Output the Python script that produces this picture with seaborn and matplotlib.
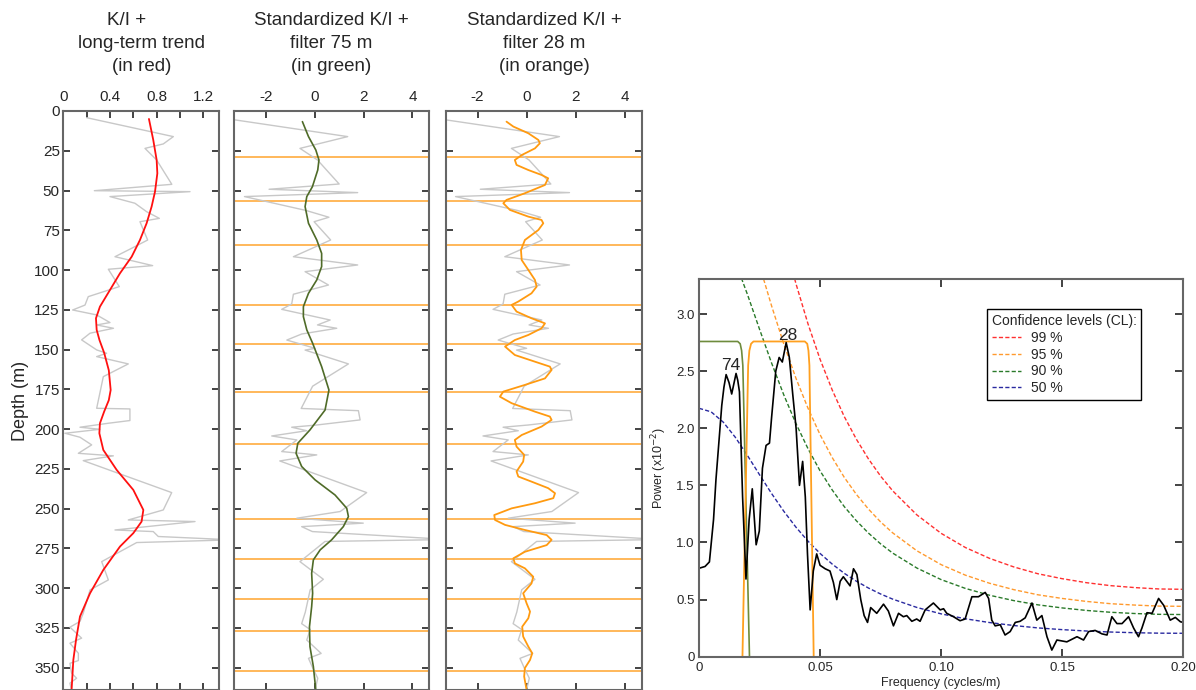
import matplotlib
matplotlib.use("Agg")
import matplotlib.pyplot as plt
import seaborn as sns

sns.set_style("ticks")
plt.rcParams['font.family'] = ['Liberation Sans', 'DejaVu Sans']
plt.rcParams['axes.unicode_minus'] = False

# ---------------- data ----------------
raw_depth = [4.2, 16.1, 20.7, 23.5, 30.8, 46.1, 50.1, 50.7, 53.8, 58.0, 63.3, 67.5, 69.6, 81.1, 86.3,
             91.6, 97.2, 99.5, 110.4, 116.7, 122.0, 125.1, 128.2, 133.0, 134.5, 136.6, 139.7, 143.9,
             150.2, 152.3, 154.4, 159.0, 167.0, 186.9, 187.3, 194.6, 196.3, 198.8, 200.1, 202.6, 205.1,
             209.9, 215.2, 216.8, 219.8, 239.9, 250.8, 257.1, 258.1, 263.4, 264.4, 267.5, 269.6, 271.3,
             283.3, 294.8, 301.1, 315.7, 320.9, 324.5, 331.4, 334.6, 340.9, 345.5, 347.2, 353.4, 356.6,
             359.7, 364.0]
raw_ki = [0.20, 0.943, 0.857, 0.70, 0.80, 0.93, 0.266, 1.086, 0.40, 0.614, 0.714, 0.823, 0.657, 0.723,
          0.586, 0.443, 0.766, 0.386, 0.48, 0.214, 0.186, 0.08, 0.286, 0.40, 0.286, 0.43, 0.229, 0.157,
          0.286, 0.371, 0.286, 0.557, 0.343, 0.286, 0.571, 0.571, 0.386, 0.143, 0.314, 0.014, 0.143,
          0.243, 0.129, 0.429, 0.171, 0.929, 0.857, 0.557, 1.129, 0.443, 0.771, 0.814, 1.45, 0.629,
          0.329, 0.386, 0.229, 0.171, 0.143, 0.057, 0.157, 0.057, 0.129, 0.129, 0.057, 0.071, 0.114,
          0.057, 0.07]

trend_depth = [5.0, 18.2, 30.8, 39.2, 50.7, 60.1, 70.6, 81.1, 91.6, 102.0, 112.5, 123.0, 130.3, 137.6,
               144.0, 152.0, 163.0, 175.4, 181.8, 189.0, 196.3, 202.6, 213.1, 225.6, 238.2, 250.8, 258.1,
               265.4, 273.8, 288.5, 303.2, 317.8, 332.5, 345.1, 364.0]
trend_ki = [0.734, 0.771, 0.800, 0.806, 0.786, 0.757, 0.714, 0.657, 0.586, 0.486, 0.400, 0.314, 0.280,
            0.286, 0.310, 0.350, 0.390, 0.406, 0.390, 0.350, 0.314, 0.309, 0.343, 0.457, 0.600, 0.686,
            0.671, 0.600, 0.486, 0.343, 0.229, 0.143, 0.109, 0.086, 0.071]

std_depth = [4.2, 16.1, 23.5, 30.8, 45.9, 49.2, 51.3, 53.8, 62.5, 66.8, 69.6, 81.1, 91.6, 96.8, 101.0,
             109.4, 115.2, 121.3, 124.7, 131.4, 134.5, 136.6, 140.2, 144.0, 149.2, 150.3, 159.0, 173.0,
             187.0, 188.4, 194.2, 197.4, 198.8, 201.0, 204.3, 206.8, 214.1, 216.2, 220.0, 239.9, 251.8,
             256.0, 259.1, 261.3, 264.4, 269.4, 270.6, 283.3, 294.4, 301.0, 315.0, 322.3, 326.0, 332.6,
             341.0, 344.1, 350.0, 356.6, 364.0]
std_ki = [-3.9, 1.34, -0.62, 0.10, 0.99, -1.89, 1.75, -2.90, -0.38, 0.57, -0.04, 0.64, -0.89, 1.75,
          -0.41, 0.55, -0.89, -0.96, -1.37, 0.62, 0.10, 0.89, -0.55, -1.16, 0.00, -0.41, 1.37, -0.10,
          -0.57, 1.78, 1.85, 0.07, -0.96, -0.34, -1.78, -0.75, -1.37, 0.07, -1.45, 2.12, 1.03, -0.75,
          1.98, -0.55, -0.11, 5.5, 0.41, -0.62, 0.34, -0.20, -0.40, -0.55, -0.20, -0.34, 0.25, -0.27,
          -0.10, 0.11, 0.00]

green_depth = [6.7, 16.1, 24.5, 30.8, 37.1, 47.6, 53.8, 60.1, 70.6, 81.1, 89.5, 97.8, 106.2, 114.6,
               123.0, 129.3, 137.6, 146.0, 160.7, 175.4, 188.0, 200.5, 208.9, 215.2, 223.5, 231.9, 241.4,
               249.7, 255.0, 261.3, 269.6, 275.9, 282.2, 290.6, 303.2, 311.6, 324.2, 336.7, 349.3, 364.0]
green_ki = [-0.52, -0.27, 0.03, 0.16, 0.11, -0.11, -0.34, -0.41, -0.27, 0.07, 0.27, 0.27, 0.07, -0.27,
            -0.48, -0.48, -0.34, -0.10, 0.27, 0.57, 0.41, -0.21, -0.71, -0.78, -0.55, 0.00, 0.82, 1.30,
            1.37, 1.16, 0.68, 0.21, -0.07, -0.14, -0.10, -0.14, -0.23, -0.21, -0.07, 0.03]

orange_depth = [6.7, 9.8, 14.0, 18.2, 20.3, 23.5, 27.7, 30.8, 33.9, 37.1,
                40.2, 42.3, 46.5, 51.7, 55.9, 58.0, 62.2, 66.4, 68.5, 70.6,
                74.8, 81.1, 87.4, 93.7, 99.9, 106.2, 110.4, 114.6, 119.8, 121.9,
                126.1, 130.3, 133.5, 136.6, 140.8, 144.0, 148.1, 153.4, 157.6, 160.7,
                162.8, 168.1, 172.2, 176.4, 179.6, 183.7, 189.0, 192.1, 194.2, 198.4,
                203.7, 206.8, 211.0, 216.2, 220.4, 226.6, 229.8, 233.0, 237.1, 240.3,
                243.4, 246.6, 249.8, 254.0, 257.1, 260.2, 263.4, 266.6, 269.6, 272.9,
                277.1, 281.2, 284.4, 287.5, 292.8, 297.0, 303.2, 309.5, 314.7, 318.9,
                324.2, 330.4, 336.7, 340.9, 345.1, 350.2, 355.5, 364.0]
orange_ki = [-0.82, -0.54, 0.07, 0.48, 0.54, 0.34, -0.20, -0.48, -0.41, 0.07,
             0.61, 0.88, 0.75, -0.07, -0.82, -0.95, -0.68, 0.07, 0.61, 0.68,
             0.48, -0.07, -0.23, -0.20, 0.07, 0.34, 0.41, 0.20, -0.34, -0.61,
             -0.41, 0.20, 0.75, 0.61, 0.07, -0.48, -0.88, -0.48, 0.34, 0.95,
             1.02, 0.75, -0.07, -0.95, -1.09, -0.61, 0.34, 0.95, 1.02, 0.61,
             -0.20, -0.48, -0.41, -0.10, -0.14, -0.41, -0.34, 0.20, 0.88, 1.16,
             1.09, 0.34, -0.61, -1.32, -1.29, -0.88, -0.07, 0.82, 1.02, 0.82,
             -0.07, -0.54, -0.48, -0.07, 0.27, 0.20, -0.14, 0.00, 0.14, 0.07,
             -0.18, -0.14, 0.07, 0.23, 0.14, -0.07, -0.10, 0.00]

cycle_depth = [28.9, 56.6, 84.0, 121.7, 146.6, 176.4, 209.1, 256.6, 281.8, 306.7, 326.6, 351.8]

spec_freq = [0.0, 0.0025, 0.0043, 0.0060, 0.0070, 0.0080, 0.0094, 0.0103, 0.0112, 0.0124,
             0.0135, 0.0145, 0.0153, 0.0160, 0.0167, 0.0180, 0.0194, 0.0207, 0.0220, 0.0236,
             0.0249, 0.0262, 0.0277, 0.0291, 0.0300, 0.0317, 0.0331, 0.0344, 0.0360, 0.0373,
             0.0387, 0.0401, 0.0415, 0.0428, 0.0439, 0.0448, 0.0459, 0.0472, 0.0486, 0.0500,
             0.0521, 0.0541, 0.0555, 0.0569, 0.0583, 0.0596, 0.0624, 0.0638, 0.0652, 0.0668,
             0.0682, 0.0696, 0.0709, 0.0734, 0.0762, 0.0782, 0.0803, 0.0824, 0.0844, 0.0858,
             0.0879, 0.0899, 0.0913, 0.0934, 0.0968, 0.0996, 0.1010, 0.1023, 0.1051, 0.1078,
             0.1099, 0.1127, 0.1154, 0.1182, 0.1196, 0.1209, 0.1223, 0.1244, 0.1264, 0.1285,
             0.1306, 0.1326, 0.1347, 0.1375, 0.1395, 0.1416, 0.1437, 0.1457, 0.1478, 0.1519,
             0.1561, 0.1588, 0.1609, 0.1636, 0.1664, 0.1685, 0.1705, 0.1726, 0.1747, 0.1774,
             0.1795, 0.1815, 0.1829, 0.1850, 0.1871, 0.1898, 0.1919, 0.1946, 0.1967, 0.1988, 0.2000]
spec_power = [0.774, 0.79, 0.83, 1.20, 1.55, 1.82, 2.20, 2.36, 2.47, 2.40,
              2.30, 2.40, 2.48, 2.42, 2.32, 1.40, 0.68, 1.20, 1.47, 0.98,
              1.10, 1.65, 1.85, 1.87, 2.10, 2.50, 2.62, 2.58, 2.75, 2.62,
              2.30, 2.00, 1.50, 1.71, 1.40, 0.90, 0.41, 0.75, 0.90, 0.80,
              0.77, 0.75, 0.65, 0.50, 0.66, 0.70, 0.62, 0.77, 0.72, 0.50,
              0.36, 0.30, 0.43, 0.38, 0.46, 0.40, 0.27, 0.38, 0.35, 0.36,
              0.31, 0.33, 0.31, 0.41, 0.47, 0.41, 0.42, 0.38, 0.35, 0.315,
              0.33, 0.525, 0.525, 0.563, 0.51, 0.32, 0.27, 0.28, 0.19, 0.22,
              0.30, 0.31, 0.34, 0.47, 0.32, 0.36, 0.175, 0.058, 0.146, 0.13,
              0.175, 0.146, 0.22, 0.23, 0.20, 0.19, 0.35, 0.29, 0.29, 0.35,
              0.25, 0.175, 0.25, 0.385, 0.38, 0.51, 0.45, 0.32, 0.344, 0.306, 0.30]

win75_freq = [0.0, 0.0160, 0.0170, 0.0176, 0.0181, 0.0209]
win75_power = [2.76, 2.76, 2.74, 2.68, 2.55, -0.05]
win28_freq = [0.0179, 0.0203, 0.0208, 0.0215, 0.0225, 0.0437, 0.0447, 0.0452, 0.0456, 0.0474]
win28_power = [-0.05, 2.55, 2.68, 2.74, 2.76, 2.76, 2.74, 2.68, 2.55, -0.05]

conf_freq = [0, 0.005, 0.01, 0.015, 0.02, 0.025, 0.03, 0.035, 0.04, 0.045, 0.05, 0.055, 0.06, 0.065,
             0.07, 0.075, 0.08, 0.09, 0.10, 0.11, 0.12, 0.13, 0.14, 0.15, 0.16, 0.17, 0.18, 0.19, 0.20]
cl50 = [2.175, 2.144, 2.054, 1.921, 1.762, 1.593, 1.428, 1.274, 1.135, 1.012, 0.904, 0.811, 0.730, 0.661,
        0.601, 0.549, 0.504, 0.431, 0.375, 0.332, 0.299, 0.273, 0.252, 0.237, 0.225, 0.216, 0.210, 0.206, 0.205]
cl90 = [3.915, 3.859, 3.697, 3.458, 3.172, 2.867, 2.570, 2.293, 2.043, 1.822, 1.627, 1.460, 1.314, 1.190,
        1.082, 0.988, 0.907, 0.776, 0.675, 0.598, 0.538, 0.491, 0.454, 0.427, 0.405, 0.389, 0.378, 0.371, 0.369]
cl95 = [4.676, 4.610, 4.416, 4.130, 3.788, 3.425, 3.070, 2.739, 2.440, 2.176, 1.944, 1.744, 1.570, 1.421,
        1.292, 1.180, 1.084, 0.927, 0.806, 0.714, 0.643, 0.587, 0.542, 0.510, 0.484, 0.464, 0.452, 0.443, 0.441]
cl99 = [6.264, 6.175, 5.916, 5.532, 5.075, 4.588, 4.113, 3.669, 3.269, 2.915, 2.604, 2.336, 2.102, 1.904,
        1.731, 1.581, 1.452, 1.241, 1.080, 0.956, 0.861, 0.786, 0.726, 0.683, 0.648, 0.622, 0.605, 0.593, 0.590]

depth_ticks = [0, 25, 50, 75, 100, 125, 150, 175, 200, 225, 250, 275, 300, 325, 350]

# ---------------- figure ----------------
W, H = 1196, 690
fig = plt.figure(figsize=(W / 100, H / 100), dpi=100)


def ax_at(x0, y0, x1, y1):
    return fig.add_axes([x0 / W, 1 - y1 / H, (x1 - x0) / W, (y1 - y0) / H])


def style(ax):
    for s in ax.spines.values():
        s.set_color('#666666')
        s.set_linewidth(1.5)
    ax.tick_params(direction='in', length=5, width=1.2, color='#222222',
                   top=True, right=True, bottom=True, left=True)


GRAY = '#c8c8c8'
LINE_OR = '#ffa52e'


def depth_panel(ax, xlim, xticks, xlabels):
    ax.set_ylim(364, 0)
    ax.set_xlim(*xlim)
    ax.set_yticks(depth_ticks)
    ax.set_xticks(xticks)
    ax.set_xticklabels(xlabels)
    style(ax)
    ax.tick_params(axis='x', labeltop=True, labelbottom=False, labelsize=11, pad=5)
    ax.set_xlabel('')
    ax.set_ylabel('')


# Panel 1
ax1 = ax_at(63.3, 111, 219.3, 690)
sns.lineplot(x=raw_ki, y=raw_depth, sort=False, estimator=None, ax=ax1, color=GRAY, lw=1.0)
sns.lineplot(x=trend_ki, y=trend_depth, sort=False, estimator=None, ax=ax1, color='#ff1010', lw=1.3)
depth_panel(ax1, (0, 1.337), [0, 0.2, 0.4, 0.6, 0.8, 1.0, 1.2], ['0', '', '0.4', '', '0.8', '', '1.2'])
ax1.tick_params(axis='y', labelsize=11, pad=2.5)
ax1.set_ylabel('Depth (m)', fontsize=13, labelpad=4)

# Panel 2
ax2 = ax_at(234, 111, 429, 690)
sns.lineplot(x=std_ki, y=std_depth, sort=False, estimator=None, ax=ax2, color=GRAY, lw=1.0)
for d in cycle_depth:
    ax2.axhline(d, color=LINE_OR, lw=1.3, alpha=0.85, zorder=1.5)
sns.lineplot(x=green_ki, y=green_depth, sort=False, estimator=None, ax=ax2, color='#4f6b28', lw=1.2)
depth_panel(ax2, (-3.33, 4.68), [-2, 0, 2, 4], ['-2', '0', '2', '4'])
ax2.tick_params(axis='y', labelleft=False)

# Panel 3
ax3 = ax_at(446, 111, 642, 690)
sns.lineplot(x=std_ki, y=std_depth, sort=False, estimator=None, ax=ax3, color=GRAY, lw=1.0)
for d in cycle_depth:
    ax3.axhline(d, color=LINE_OR, lw=1.3, alpha=0.85, zorder=1.5)
sns.lineplot(x=orange_ki, y=orange_depth, sort=False, estimator=None, ax=ax3, color='#ff9a10', lw=1.3)
depth_panel(ax3, (-3.29, 4.71), [-2, 0, 2, 4], ['-2', '0', '2', '4'])
ax3.tick_params(axis='y', labelleft=False)

# titles
TFS = 13.5
titles = [
    (127, ['K/I +']), (141.5, [None, 'long-term trend', '(in red)']),
    (331.5, ['Standardized K/I +', 'filter 75 m', '(in green)']),
    (544, ['Standardized K/I +', 'filter 28 m', '(in orange)']),
]
baselines = [25, 48, 71]
for xc, lines in titles:
    for i, t in enumerate(lines):
        if t is None:
            continue
        fig.text(xc / W, 1 - baselines[i] / H, t, ha='center', va='baseline', fontsize=TFS)

# Spectral panel
ax4 = ax_at(699, 279, 1183.3, 656.7)
conf = [(cl99, '#ff3030', '99 %'), (cl95, '#ff9a2e', '95 %'),
        (cl90, '#2a7a2a', '90 %'), (cl50, '#2a2aa0', '50 %')]
handles = []
for vals, col, lab in conf:
    sns.lineplot(x=conf_freq, y=vals, ax=ax4, color=col, lw=1.0, legend=False)
    ln = ax4.lines[-1]
    ln.set_dashes([3, 1.6])
    handles.append((ln, lab))
sns.lineplot(x=win75_freq, y=win75_power, ax=ax4, color='#6e8b3d', lw=1.2, sort=False, estimator=None)
sns.lineplot(x=win28_freq, y=win28_power, ax=ax4, color='#ffa020', lw=1.3, sort=False, estimator=None)
sns.lineplot(x=spec_freq, y=spec_power, ax=ax4, color='black', lw=1.2, sort=False, estimator=None)
ax4.set_xlim(0, 0.2)
ax4.set_ylim(0, 3.307)
ax4.set_xticks([0, 0.05, 0.10, 0.15, 0.20])
ax4.set_xticklabels(['0', '0.05', '0.10', '0.15', '0.20'])
ax4.set_yticks([0, 0.5, 1.0, 1.5, 2.0, 2.5, 3.0])
ax4.set_yticklabels(['0', '0.5', '1.0', '1.5', '2.0', '2.5', '3.0'])
style(ax4)
ax4.tick_params(labelsize=9.5, length=6)
ax4.tick_params(axis='y', pad=3)
ax4.tick_params(axis='x', pad=4)
ax4.set_xlabel('Frequency (cycles/m)', fontsize=9, labelpad=2)
ax4.set_ylabel('Power (x10$^{-2}$)', fontsize=9, labelpad=5)
ax4.text(0.0132, 2.51, '74', ha='center', va='baseline', fontsize=12.5)
ax4.text(0.0366, 2.77, '28', ha='center', va='baseline', fontsize=12.5)

leg = ax4.legend([h for h, _ in handles], [l for _, l in handles], title='Confidence levels (CL):',
                 loc='upper left', bbox_to_anchor=(0.594, 0.920), fontsize=10, title_fontsize=10,
                 frameon=True, fancybox=False, edgecolor='black', framealpha=1,
                 handlelength=2.1, handletextpad=0.75, borderpad=0.35, labelspacing=0.2,
                 alignment='left', borderaxespad=0)
leg.get_frame().set_linewidth(1.0)

fig.savefig('out.png', dpi=100)
